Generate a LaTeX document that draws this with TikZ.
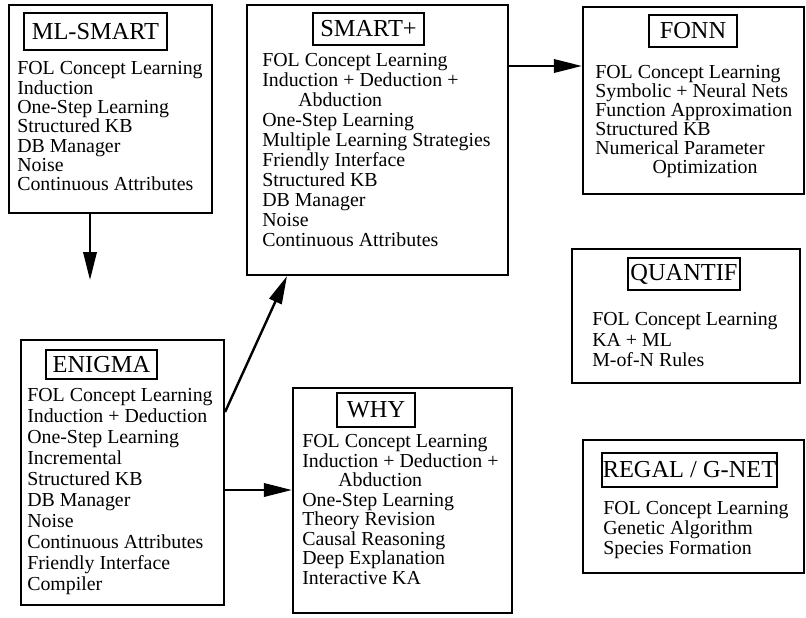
\documentclass[tikz,border=0pt]{standalone}
\usepackage{fontspec}
\setmainfont{Liberation Serif}
\usetikzlibrary{arrows.meta,fit}
\begin{document}
\begin{tikzpicture}[x=0.75pt,y=-0.75pt,
  box/.style={draw, line width=1.6pt, inner sep=0pt},
  ttl/.style={draw, line width=2pt, inner sep=0pt, font=\fontsize{18.3}{20}\selectfont},
  txt/.style={anchor=north west, inner sep=0pt, align=left},
  arr/.style={line width=1.8pt, -{Triangle[length=21pt,width=10pt]}}]
\useasboundingbox (0,0) rectangle (806,617);

% ML-SMART
\node[box, fit={(9,5) (212,213)}] (mls) {};
\node[ttl, minimum width=107.25pt, minimum height=27.75pt] (mlsT) at (95.5,31.5) {ML-SMART};
\node[txt, font=\fontsize{14.9}{14.5}\selectfont] (mlsX) at (17,61.5) {FOL Concept Learning\\Induction\\One-Step Learning\\Structured KB\\DB Manager\\Noise\\Continuous Attributes};

% SMART+
\node[box, fit={(247,5) (508,275)}] (smp) {};
\node[ttl, minimum width=83.25pt, minimum height=24pt] (smpT) at (368.5,29) {SMART+};
\node[txt, font=\fontsize{14.9}{15}\selectfont] (smpX) at (262,53.5) {FOL Concept Learning\\Induction + Deduction +\\\hspace*{27pt}Abduction\\One-Step Learning\\Multiple Learning Strategies\\Friendly Interface\\Structured KB\\DB Manager\\Noise\\Continuous Attributes};

% FONN
\node[box, fit={(583,7) (804,194)}] (fonn) {};
\node[ttl, minimum width=66pt, minimum height=24pt] (fonnT) at (693,31) {FONN};
\node[txt, font=\fontsize{14.9}{14.25}\selectfont] (fonnX) at (595,65.5) {FOL Concept Learning\\Symbolic + Neural Nets\\Function Approximation\\Structured KB\\Numerical Parameter\\\hspace*{43pt}Optimization};

% QUANTIF
\node[box, fit={(572,249) (800,383)}] (qua) {};
\node[ttl, minimum width=84pt, minimum height=24pt] (quaT) at (684,274) {QUANTIF};
\node[txt, font=\fontsize{14.9}{15.4}\selectfont] (quaX) at (592,312.5) {FOL Concept Learning\\KA + ML\\M-of-N Rules};

% ENIGMA
\node[box, fit={(21,340) (224,605)}] (eni) {};
\node[ttl, minimum width=83.25pt, minimum height=21.75pt] (eniT) at (101.5,364.5) {ENIGMA};
\node[txt, font=\fontsize{14.9}{15.75}\selectfont] (eniX) at (27,388.5) {FOL Concept Learning\\Induction + Deduction\\One-Step Learning\\Incremental\\Structured KB\\DB Manager\\Noise\\Continuous Attributes\\Friendly Interface\\Compiler};

% WHY
\node[box, fit={(293,388) (512,613)}] (why) {};
\node[ttl, minimum width=58.5pt, minimum height=25.5pt] (whyT) at (376,410) {WHY};
\node[txt, font=\fontsize{14.9}{14.6}\selectfont] (whyX) at (302,434.5) {FOL Concept Learning\\Induction + Deduction +\\\hspace*{27pt}Abduction\\One-Step Learning\\Theory Revision\\Causal Reasoning\\Deep Explanation\\Interactive KA};

% REGAL / G-NET
\node[box, fit={(583,440) (804,573)}] (reg) {};
\node[ttl, minimum width=131.25pt, minimum height=25.5pt] (regT) at (689.5,470) {REGAL / G-NET};
\node[txt, font=\fontsize{14.9}{15}\selectfont] (regX) at (603,501.5) {FOL Concept Learning\\Genetic Algorithm\\Species Formation};

% connectors
\coordinate (mlsEnd) at (90,280);
\draw[arr] (mls.south -| mlsEnd) -- (mlsEnd);
\draw[arr] (eni.east |- 0,412) -- (smp.south -| 287,0);
\draw[arr] (eni.east |- 0,490) -- (why.west |- 0,490);
\draw[arr] (smp.east |- 0,66) -- (fonn.west |- 0,66);
\end{tikzpicture}
\end{document}
